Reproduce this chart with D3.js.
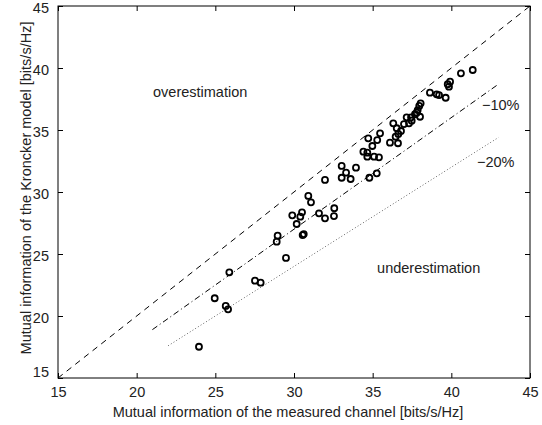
<!DOCTYPE html>
<html>
<head>
<meta charset="utf-8">
<script src="https://cdn.jsdelivr.net/npm/d3@7"></script>
<style>
  body { margin: 0; background: #fff; }
  text { font-family: "Liberation Sans", Arial, sans-serif; fill: #222; }
</style>
</head>
<body>
<svg id="chart" width="542" height="425"></svg>
<script>
// measured channel MI (x) vs Kronecker model MI (y), bits/s/Hz
var measured = [41.36, 40.61, 39.92, 39.77, 39.85, 38.64, 39.07, 39.22, 39.64, 38.05,
  37.96, 37.86, 37.80, 37.69, 38.01, 37.44, 37.16, 37.48, 37.31, 36.99,
  36.31, 36.53, 36.80, 36.63, 35.47, 34.72, 35.29, 36.46, 36.10, 36.61,
  34.98, 34.41, 34.66, 34.66, 35.09, 35.40, 33.03, 33.94, 33.31, 35.26,
  31.97, 33.03, 33.60, 34.79, 30.91, 31.08, 29.89, 30.51, 30.40, 31.59,
  32.56, 32.54, 31.97, 30.17, 30.62, 30.55, 28.96, 28.90, 29.49, 25.89,
  27.52, 27.88, 24.96, 25.66, 25.81, 23.96];
var kronecker = [39.84, 39.57, 38.90, 38.69, 38.49, 38.01, 37.88, 37.82, 37.60, 37.15,
  36.94, 36.61, 36.40, 36.27, 36.07, 36.02, 36.02, 35.75, 35.54, 35.48,
  35.54, 35.14, 34.92, 34.68, 34.73, 34.33, 34.19, 34.46, 33.98, 33.93,
  33.71, 33.25, 33.17, 32.85, 32.85, 32.80, 32.10, 31.96, 31.56, 31.51,
  30.97, 31.15, 31.05, 31.15, 29.68, 29.17, 28.12, 28.36, 28.01, 28.28,
  28.69, 28.06, 27.88, 27.42, 26.61, 26.53, 26.48, 25.99, 24.68, 23.52,
  22.85, 22.69, 21.43, 20.81, 20.54, 17.52];

var tickValues = [15, 20, 25, 30, 35, 40, 45];

// reference lines: factor applied to x, and x range
var refLines = [
  { name: "exact", factor: 1.0, x0: 15, x1: 45, dash: "6,5", color: "#000" },
  { name: "-10%", factor: 0.9, x0: 21, x1: 43, dash: "6,3,1,3", color: "#000" },
  { name: "-20%", factor: 0.8, x0: 22, x1: 43, dash: "1,2.2", color: "#666" }
];

var margin = { left: 58, right: 12, top: 6, bottom: 47 };
var width = 542 - margin.left - margin.right;
var height = 425 - margin.top - margin.bottom;

var svg = d3.select("#chart");
var g = svg.append("g").attr("transform", "translate(" + margin.left + "," + margin.top + ")");

var x = d3.scaleLinear().domain([15, 45]).range([0, width]);
var y = d3.scaleLinear().domain([15, 45]).range([height, 0]);

var fontSize = "14.5px";

// axes, MATLAB style: ticks inside on all four sides
function styleAxis(sel, hideText) {
  sel.select(".domain").remove();
  sel.selectAll(".tick line").attr("stroke", "#000");
  sel.selectAll(".tick text").style("font-size", fontSize);
  if (hideText) sel.selectAll(".tick text").remove();
}

g.append("g")
  .attr("transform", "translate(0," + height + ")")
  .call(d3.axisBottom(x).tickValues(tickValues).tickSizeInner(-5).tickSizeOuter(0).tickPadding(9))
  .call(styleAxis, false);
g.append("g")
  .call(d3.axisTop(x).tickValues(tickValues).tickSizeInner(-5).tickSizeOuter(0))
  .call(styleAxis, true);
g.append("g")
  .call(d3.axisLeft(y).tickValues(tickValues).tickSizeInner(-5).tickSizeOuter(0).tickPadding(9))
  .call(styleAxis, false)
  .selectAll(".tick text")
  .attr("dy", function(d) { return d === 15 ? "-0.1em" : "0.42em"; });
g.append("g")
  .attr("transform", "translate(" + width + ",0)")
  .call(d3.axisRight(y).tickValues(tickValues).tickSizeInner(-5).tickSizeOuter(0))
  .call(styleAxis, true);

g.append("rect")
  .attr("width", width).attr("height", height)
  .attr("fill", "none").attr("stroke", "#000").attr("stroke-width", 1);

// reference lines
var line = d3.line().x(function(d) { return x(d[0]); }).y(function(d) { return y(d[1]); });
refLines.forEach(function(r) {
  g.append("path")
    .datum([[r.x0, r.x0 * r.factor], [r.x1, r.x1 * r.factor]])
    .attr("d", line)
    .attr("fill", "none")
    .attr("stroke", r.color)
    .attr("stroke-width", 1)
    .attr("stroke-dasharray", r.dash);
});

// scatter points
g.selectAll("circle.pt")
  .data(measured.map(function(m, i) { return [m, kronecker[i]]; }))
  .enter().append("circle")
  .attr("class", "pt")
  .attr("cx", function(d) { return x(d[0]); })
  .attr("cy", function(d) { return y(d[1]); })
  .attr("r", 3)
  .attr("fill", "none")
  .attr("stroke", "#000")
  .attr("stroke-width", 1.8);

// annotations
g.append("text").attr("x", x(21.04)).attr("y", y(37.7)).style("font-size", fontSize).text("overestimation");
g.append("text").attr("x", x(35.28)).attr("y", y(23.45)).style("font-size", fontSize).text("underestimation");
g.append("text").attr("x", x(41.95)).attr("y", y(36.6)).style("font-size", fontSize).text("\u221210%");
g.append("text").attr("x", x(41.63)).attr("y", y(32.0)).style("font-size", fontSize).text("\u221220%");

// axis titles
svg.append("text")
  .attr("x", margin.left + width / 2 - 6)
  .attr("y", 417)
  .attr("text-anchor", "middle")
  .style("font-size", fontSize)
  .text("Mutual information of the measured channel [bits/s/Hz]");
svg.append("text")
  .attr("transform", "translate(31," + (margin.top + height / 2 - 4) + ") rotate(-90)")
  .attr("text-anchor", "middle")
  .style("font-size", fontSize)
  .text("Mutual information of the Kroncker model [bits/s/Hz]");
</script>
</body>
</html>
